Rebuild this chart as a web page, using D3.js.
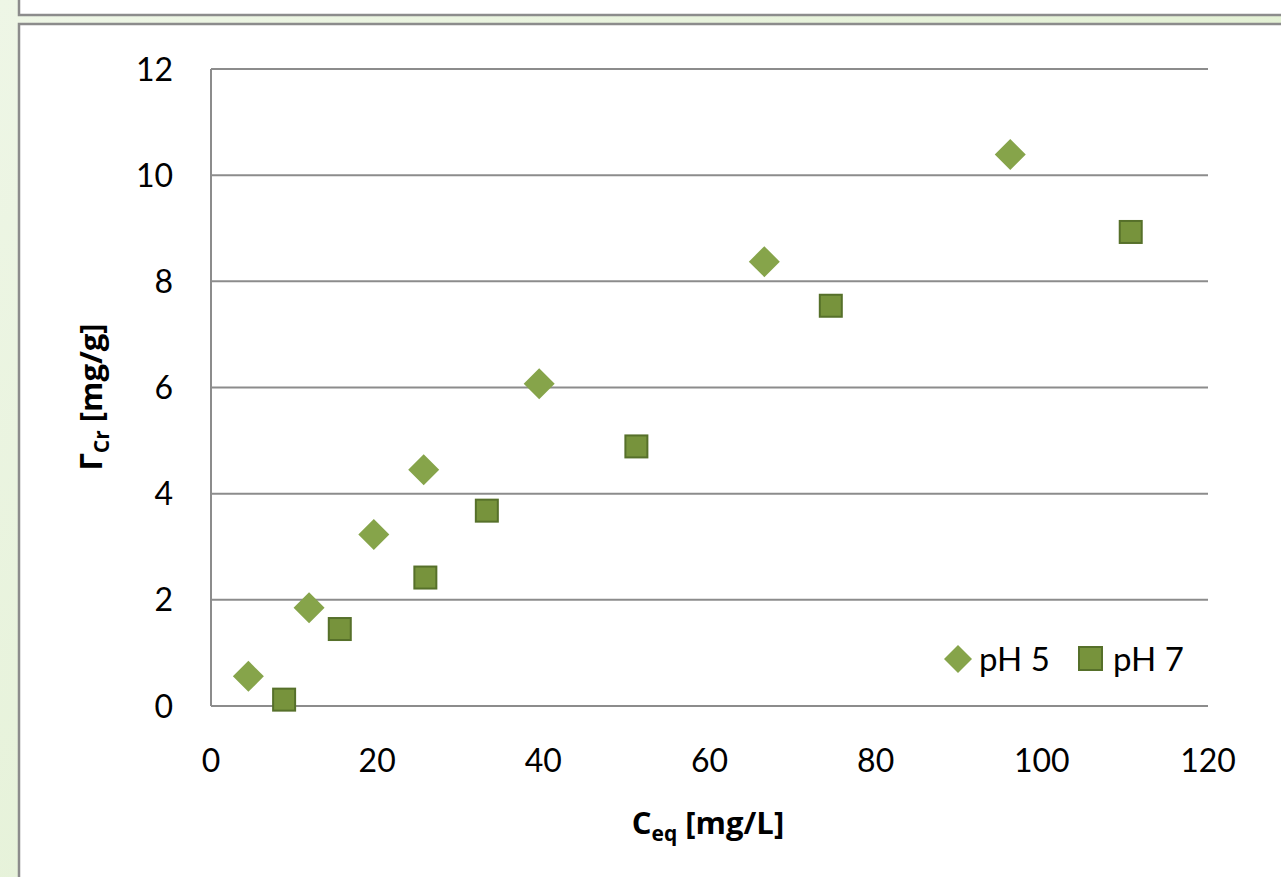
<!DOCTYPE html>
<html>
<head>
<meta charset="utf-8">
<script src="https://cdn.jsdelivr.net/npm/d3@7"></script>
<style>
  html, body { margin: 0; padding: 0; }
  body { width: 1281px; height: 877px; overflow: hidden;
    background: linear-gradient(135deg, #eef6e6, #dcedc9); }
  svg { display: block; }
</style>
</head>
<body>
<svg id="chart" width="1281" height="877"></svg>
<script>
// data
const ph5X = [4.5, 11.8, 19.6, 25.6, 39.5, 66.6, 96.2];
const ph5Y = [0.56, 1.85, 3.23, 4.45, 6.07, 8.37, 10.39];
const ph7X = [8.8, 15.5, 25.8, 33.2, 51.2, 74.6, 110.7];
const ph7Y = [0.12, 1.45, 2.42, 3.68, 4.89, 7.54, 8.93];
const xTicks = [0, 20, 40, 60, 80, 100, 120];
const yTicks = [0, 2, 4, 6, 8, 10, 12];
const seriesNames = ['pH 5', 'pH 7'];

const font = 'Lato, "Open Sans", sans-serif';
const titleFont = '"Open Sans", Lato, sans-serif';
const svg = d3.select('#chart');

// panels (slide boxes behind the chart)
svg.append('rect')
    .attr('x', 19).attr('y', -10).attr('width', 1300).attr('height', 25)
    .attr('fill', '#fff').attr('stroke', '#8c8c8c').attr('stroke-width', 2.5);
svg.append('rect')
    .attr('x', 19).attr('y', 24).attr('width', 1300).attr('height', 900)
    .attr('fill', '#fff').attr('stroke', '#8c8c8c').attr('stroke-width', 2.5);

const x = d3.scaleLinear().domain([0, 120]).range([211, 1208]);
const y = d3.scaleLinear().domain([0, 12]).range([706, 69]);

// gridlines
svg.append('g')
    .selectAll('line')
    .data(yTicks)
    .join('line')
    .attr('x1', x(0)).attr('x2', x(120))
    .attr('y1', (d) => y(d)).attr('y2', (d) => y(d))
    .attr('stroke', '#8c8c8c').attr('stroke-width', 2);

svg.append('line')
    .attr('x1', x(0)).attr('x2', x(0))
    .attr('y1', y(0)).attr('y2', y(12))
    .attr('stroke', '#8c8c8c').attr('stroke-width', 2);

// tick labels
svg.append('g')
    .attr('font-family', font).attr('font-size', 32).attr('fill', '#000')
    .selectAll('text')
    .data(yTicks)
    .join('text')
    .attr('x', x(0) - 38).attr('y', (d) => y(d))
    .attr('dy', '0.36em').attr('text-anchor', 'end')
    .text((d) => d);

svg.append('g')
    .attr('font-family', font).attr('font-size', 32).attr('fill', '#000')
    .selectAll('text')
    .data(xTicks)
    .join('text')
    .attr('x', (d) => x(d)).attr('y', 760)
    .attr('dy', '0.36em').attr('text-anchor', 'middle')
    .text((d) => d);

// axis titles
const xt = svg.append('text')
    .attr('font-family', titleFont).attr('font-size', 31).attr('font-weight', 'bold')
    .attr('x', 708).attr('y', 834).attr('text-anchor', 'middle');
xt.append('tspan').text('C');
xt.append('tspan').attr('font-size', 21).attr('dy', 7).text('eq');
xt.append('tspan').attr('dy', -7).text(' [mg/L]');

const yt = svg.append('text')
    .attr('font-family', titleFont).attr('font-size', 31).attr('font-weight', 'bold')
    .attr('transform', 'translate(102,397) rotate(-90)')
    .attr('text-anchor', 'middle');
yt.append('tspan').text('Γ');
yt.append('tspan').attr('font-size', 21).attr('dy', 7).text('Cr');
yt.append('tspan').attr('dy', -7).text(' [mg/g]');

// markers
const diamond = 'M0,-15.5L15.5,0L0,15.5L-15.5,0Z';
const pts5 = ph5X.map((v, i) => [v, ph5Y[i]]);
const pts7 = ph7X.map((v, i) => [v, ph7Y[i]]);

svg.append('g')
    .selectAll('path')
    .data(pts5)
    .join('path')
    .attr('d', diamond)
    .attr('transform', (d) => `translate(${x(d[0])},${y(d[1])})`)
    .attr('fill', '#86a44a');

svg.append('g')
    .selectAll('rect')
    .data(pts7)
    .join('rect')
    .attr('x', (d) => x(d[0]) - 11).attr('y', (d) => y(d[1]) - 11)
    .attr('width', 22).attr('height', 22)
    .attr('fill', '#77933c').attr('stroke', '#56702a').attr('stroke-width', 2);

// legend
const leg = svg.append('g').attr('font-family', font).attr('font-size', 33);
leg.append('path').attr('d', 'M0,-14L14,0L0,14L-14,0Z')
    .attr('transform', 'translate(958,659)').attr('fill', '#86a44a');
leg.append('text').attr('x', 979).attr('y', 659).attr('dy', '0.36em')
    .text(seriesNames[0]);
leg.append('rect').attr('x', 1079).attr('y', 647).attr('width', 23).attr('height', 23)
    .attr('fill', '#77933c').attr('stroke', '#56702a').attr('stroke-width', 2);
leg.append('text').attr('x', 1113).attr('y', 659).attr('dy', '0.36em')
    .text(seriesNames[1]);
</script>
</body>
</html>
